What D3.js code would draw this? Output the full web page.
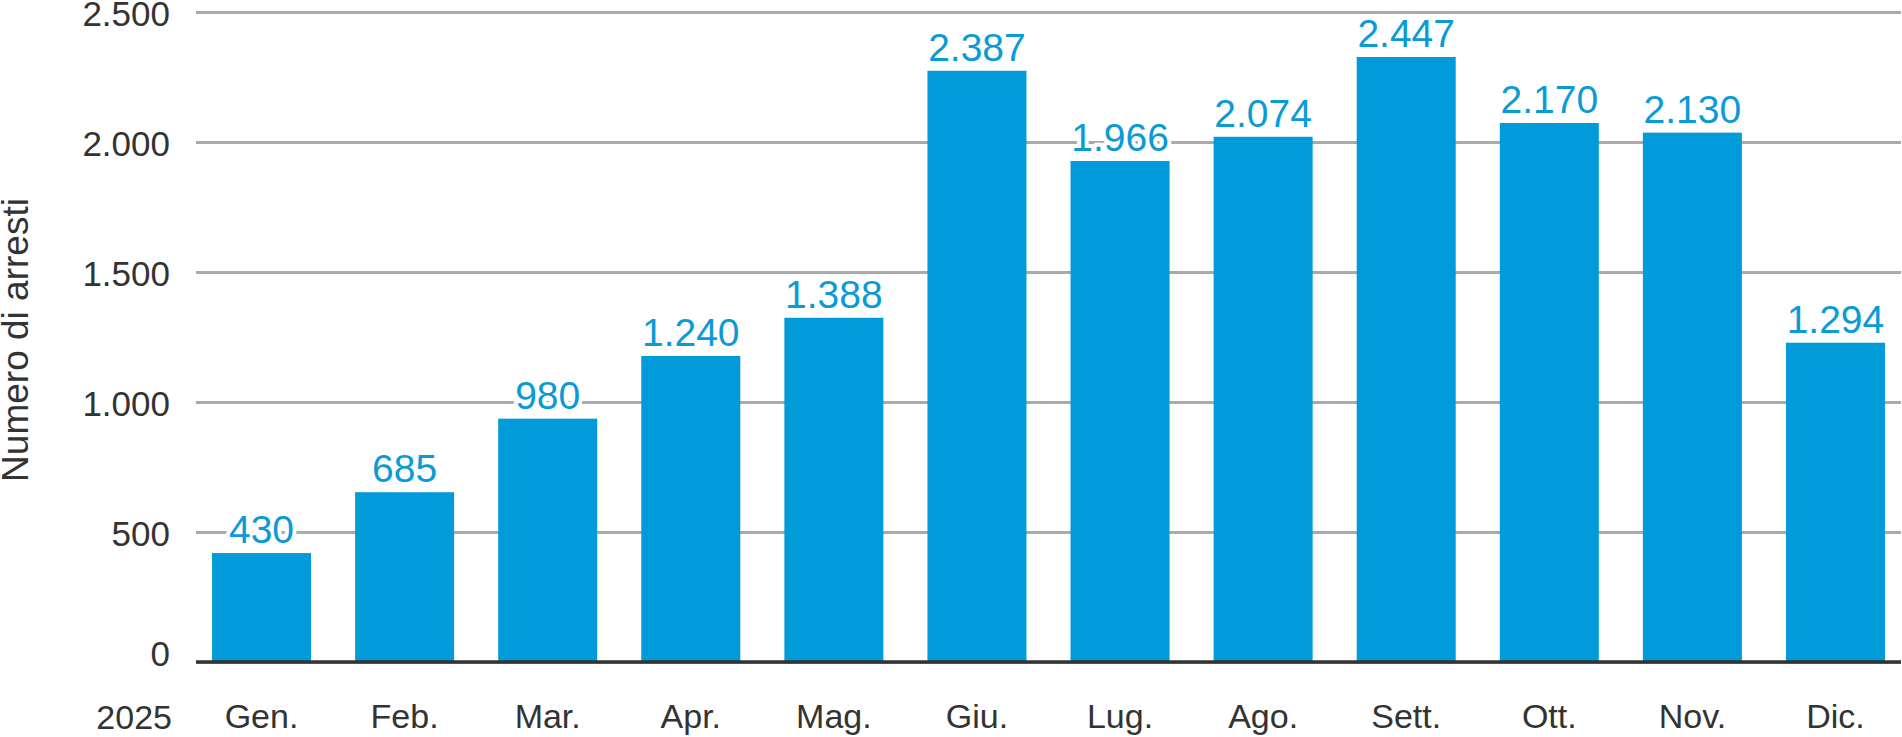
<!DOCTYPE html>
<html>
<head>
<meta charset="utf-8">
<script src="https://cdn.jsdelivr.net/npm/d3@7"></script>
<style>
  body { margin: 0; background: #fff; }
  svg text { font-family: "Liberation Sans", Arial, sans-serif; }
</style>
</head>
<body>
<div id="chart"></div>
<script>
// Months shown on the x axis
var months = ['Gen.', 'Feb.', 'Mar.', 'Apr.', 'Mag.', 'Giu.', 'Lug.', 'Ago.', 'Sett.', 'Ott.', 'Nov.', 'Dic.'];
// Values printed above the bars
var arrestLabels = [430, 685, 980, 1240, 1388, 2387, 1966, 2074, 2447, 2170, 2130, 1294];
var barHeights = [419, 653, 936, 1177, 1324, 2274, 1927, 2020, 2327, 2073, 2036, 1228];
var yTicks = [0, 500, 1000, 1500, 2000, 2500];
var yearLabel = '2025';
var yTitle = 'Numero di arresti';

var width  = 1902,
    height = 737;

var plot = { left: 196, right: 1901, top: 12, bottom: 662 };

var it = d3.formatLocale({ decimal: ',', thousands: '.', grouping: [3], currency: ['€', ''] });
var fmt = it.format(',d');

var svg = d3.select('#chart')
            .append('svg')
            .attr('width', width)
            .attr('height', height);

var x = d3.scaleBand()
          .domain(months)
          .range([plot.left, plot.right])
          .paddingInner(0.308)
          .paddingOuter(0.112);

var y = d3.scaleLinear()
          .domain([0, 2500])
          .range([plot.bottom, plot.top]);

// Gridlines and y tick labels
var yAxis = svg.append('g')
               .attr('transform', 'translate(' + plot.left + ',0)')
               .call(d3.axisLeft(y)
                       .tickValues(yTicks)
                       .tickSize(-(plot.right - plot.left))
                       .tickPadding(26)
                       .tickFormat(fmt));

yAxis.select('.domain').remove();
yAxis.selectAll('.tick line')
     .attr('stroke', '#aaaaaa')
     .attr('stroke-width', 3);
yAxis.selectAll('.tick text')
     .attr('fill', '#333333')
     .style('font-size', '35px')
     .attr('dy', '0.38em');
yAxis.selectAll('.tick')
     .filter(function(d) { return d === 0; })
     .select('text')
     .attr('dy', '0.1em');

// Bars
svg.append('g')
   .selectAll('rect')
   .data(barHeights)
   .enter()
   .append('rect')
   .attr('x', function(d, i) { return x(months[i]); })
   .attr('y', function(d) { return y(d); })
   .attr('width', x.bandwidth())
   .attr('height', function(d) { return y(0) - y(d); })
   .attr('fill', '#009bd8');

// Baseline drawn over the bars
svg.append('line')
   .attr('x1', plot.left)
   .attr('x2', plot.right)
   .attr('y1', y(0))
   .attr('y2', y(0))
   .attr('stroke', '#333333')
   .attr('stroke-width', 3.5);

// Value labels with a white halo that cuts the gridlines
svg.append('g')
   .selectAll('text')
   .data(arrestLabels)
   .enter()
   .append('text')
   .attr('x', function(d, i) { return x(months[i]) + x.bandwidth() / 2; })
   .attr('y', function(d, i) { return y(barHeights[i]) - 10; })
   .attr('text-anchor', 'middle')
   .style('font-size', '39px')
   .attr('fill', '#0a9bd7')
   .attr('stroke', '#ffffff')
   .attr('stroke-width', 8)
   .attr('stroke-linejoin', 'round')
   .attr('paint-order', 'stroke')
   .text(function(d) { return fmt(d); });

// Month labels
var xAxis = svg.append('g')
               .attr('transform', 'translate(0,' + plot.bottom + ')')
               .call(d3.axisBottom(x).tickSize(0).tickPadding(0));

xAxis.select('.domain').remove();
xAxis.selectAll('.tick text')
     .attr('y', 66)
     .attr('dy', null)
     .attr('fill', '#333333')
     .style('font-size', '34px');

svg.append('text')
   .attr('x', 172)
   .attr('y', 729)
   .attr('text-anchor', 'end')
   .attr('fill', '#333333')
   .style('font-size', '34px')
   .text(yearLabel);

svg.append('text')
   .attr('transform', 'translate(28,' + 340 + ') rotate(-90)')
   .attr('text-anchor', 'middle')
   .attr('fill', '#333333')
   .style('font-size', '37px')
   .text(yTitle);
</script>
</body>
</html>
